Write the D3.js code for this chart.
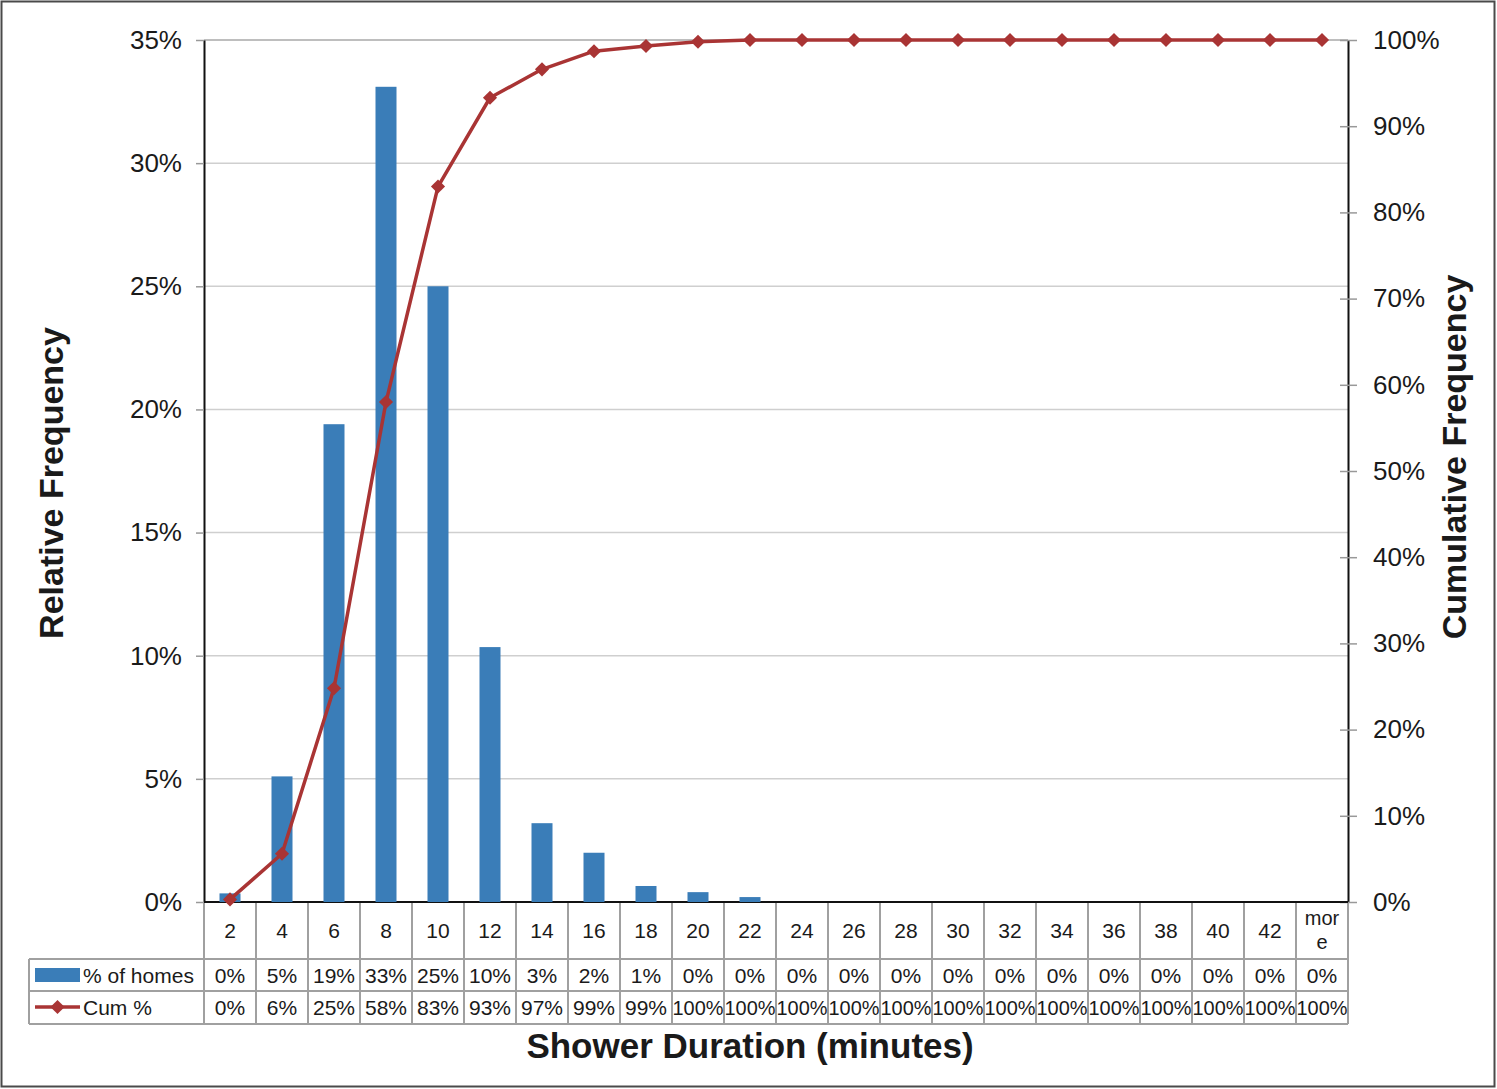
<!DOCTYPE html>
<html>
<head>
<meta charset="utf-8">
<script src="https://cdn.jsdelivr.net/npm/d3@7"></script>
<style>
  html, body { margin: 0; padding: 0; background: #fff; }
  svg { display: block; font-family: "Liberation Sans", Arial, sans-serif; }
</style>
</head>
<body>
<svg id="chart" width="1497" height="1089"></svg>
<script>
// Shower duration bins (minutes)
const categories = ["2","4","6","8","10","12","14","16","18","20","22","24","26","28","30","32","34","36","38","40","42","more"];
// Share of homes per bin (%)
const pctHomes = [0.35, 5.1, 19.4, 33.1, 25.0, 10.35, 3.2, 2.0, 0.65, 0.4, 0.2, 0, 0, 0, 0, 0, 0, 0, 0, 0, 0, 0];
// Cumulative share (%)
const cumPct = [0.3, 5.6, 24.8, 58.0, 83.0, 93.3, 96.6, 98.7, 99.3, 99.8, 100, 100, 100, 100, 100, 100, 100, 100, 100, 100, 100, 100];
const leftTicks = [0, 5, 10, 15, 20, 25, 30, 35];
const rightTicks = [0, 10, 20, 30, 40, 50, 60, 70, 80, 90, 100];
const seriesNames = ["% of homes", "Cum %"];

const BLUE = "#3a7db8";
const RED = "#a93434";
const TEXT = "#1a1a1a";

const svg = d3.select("#chart");
const plot = { left: 204, right: 1348, top: 40, bottom: 902 };

const x = d3.scaleBand().domain(categories).range([plot.left, plot.right]).padding(0);
const yL = d3.scaleLinear().domain([0, 35]).range([plot.bottom, plot.top]);
const yR = d3.scaleLinear().domain([0, 100]).range([plot.bottom, plot.top]);
const pctFmt = v => d3.format(".0%")(v / 100);
const marker = d3.symbol(d3.symbolSquare, 100)();

// outer frame
svg.append("rect").attr("x", 1.5).attr("y", 1.5).attr("width", 1493).attr("height", 1085)
  .attr("fill", "none").attr("stroke", "#4a4a4a").attr("stroke-width", 2);

// horizontal gridlines
svg.append("g").selectAll("line").data(leftTicks.filter(d => d > 0)).join("line")
  .attr("x1", plot.left).attr("x2", plot.right)
  .attr("y1", d => yL(d)).attr("y2", d => yL(d))
  .attr("stroke", d => d === 35 ? "#a8a8a8" : "#cfcfcf").attr("stroke-width", 1.5);

// left axis
const axL = svg.append("g").attr("transform", `translate(${plot.left},0)`)
  .call(d3.axisLeft(yL).tickValues(leftTicks).tickFormat(d => d + "%").tickSize(8).tickSizeOuter(0).tickPadding(14));
axL.select(".domain").attr("stroke", "#111").attr("stroke-width", 2);
axL.selectAll(".tick line").attr("stroke", "#999").attr("stroke-width", 1.5);
axL.selectAll(".tick text").attr("font-size", 26).attr("fill", TEXT).attr("font-family", "Liberation Sans, Arial, sans-serif");

// right axis (ticks cross the axis line)
const axR = svg.append("g").attr("transform", `translate(${plot.right},0)`)
  .call(d3.axisRight(yR).tickValues(rightTicks).tickFormat(d => d + "%").tickSize(9).tickSizeOuter(0).tickPadding(16));
axR.select(".domain").attr("stroke", "#111").attr("stroke-width", 2);
axR.selectAll(".tick line").attr("x1", -8).attr("stroke", "#999").attr("stroke-width", 1.5);
axR.selectAll(".tick text").attr("font-size", 26).attr("fill", TEXT).attr("font-family", "Liberation Sans, Arial, sans-serif");

// data table beneath the plot
const table = { left: 29, rowTop: 959, rowMid: 991, rowBottom: 1024 };
const tg = svg.append("g").attr("stroke", "#a0a0a0").attr("stroke-width", 2);
// vertical column separators
const bounds = categories.map(c => x(c)).concat([plot.right]);
tg.selectAll("line.v").data(bounds).join("line").attr("class", "v")
  .attr("x1", d => d).attr("x2", d => d)
  .attr("y1", plot.bottom).attr("y2", table.rowBottom);
// horizontal rows
[table.rowTop, table.rowMid, table.rowBottom].forEach(y => {
  tg.append("line").attr("x1", table.left).attr("x2", plot.right).attr("y1", y).attr("y2", y);
});
tg.append("line").attr("x1", table.left).attr("x2", table.left).attr("y1", table.rowTop).attr("y2", table.rowBottom);

// bottom axis line
svg.append("line").attr("x1", plot.left).attr("x2", plot.right)
  .attr("y1", plot.bottom).attr("y2", plot.bottom).attr("stroke", "#111").attr("stroke-width", 2);

// category labels
const catG = svg.append("g").attr("font-size", 21).attr("fill", TEXT).attr("text-anchor", "middle");
categories.forEach(c => {
  const cx = x(c) + x.bandwidth() / 2;
  if (c === "more") {
    const t = catG.append("text").attr("x", cx).attr("y", 925).attr("font-size", 20);
    t.append("tspan").attr("x", cx).text("mor");
    t.append("tspan").attr("x", cx).attr("dy", 24).text("e");
  } else {
    catG.append("text").attr("x", cx).attr("y", 938).text(c);
  }
});

// table values
const valG = svg.append("g").attr("font-size", 21).attr("fill", TEXT).attr("text-anchor", "middle");
categories.forEach((c, i) => {
  const cx = x(c) + x.bandwidth() / 2;
  valG.append("text").attr("x", cx).attr("y", 983).text(pctFmt(pctHomes[i]));
  const cum = pctFmt(cumPct[i]);
  const t = valG.append("text").attr("x", cx).attr("y", 1015).text(cum);
  if (cum.length > 3) t.attr("textLength", 51).attr("lengthAdjust", "spacingAndGlyphs");
});

// legend keys in table
svg.append("rect").attr("x", 35).attr("y", 968).attr("width", 45).attr("height", 14).attr("fill", BLUE);
svg.append("text").attr("x", 83).attr("y", 983).attr("font-size", 21).attr("fill", TEXT).text(seriesNames[0]);
svg.append("line").attr("x1", 35).attr("x2", 80).attr("y1", 1007).attr("y2", 1007).attr("stroke", RED).attr("stroke-width", 3.5);
svg.append("path").attr("d", marker).attr("fill", RED)
  .attr("transform", "translate(57.5,1007) rotate(45)");
svg.append("text").attr("x", 83).attr("y", 1015).attr("font-size", 21).attr("fill", TEXT).text(seriesNames[1]);

// bars
const barW = 21;
svg.append("g").selectAll("rect").data(categories.map((c, i) => ({ c, v: pctHomes[i] }))).join("rect")
  .attr("x", d => x(d.c) + x.bandwidth() / 2 - barW / 2)
  .attr("width", barW)
  .attr("y", d => yL(d.v))
  .attr("height", d => yL(0) - yL(d.v))
  .attr("fill", BLUE);

// cumulative line
const cumData = categories.map((c, i) => ({ c, v: cumPct[i] }));
svg.append("path").datum(cumData)
  .attr("fill", "none").attr("stroke", RED).attr("stroke-width", 3.5).attr("stroke-linejoin", "round")
  .attr("d", d3.line().x(d => x(d.c) + x.bandwidth() / 2).y(d => yR(d.v)));
svg.append("g").selectAll("path").data(cumData).join("path")
  .attr("d", marker)
  .attr("fill", RED)
  .attr("transform", d => `translate(${x(d.c) + x.bandwidth() / 2},${yR(d.v)}) rotate(45)`);

// axis titles
svg.append("text").attr("transform", "translate(63,483) rotate(-90)")
  .attr("text-anchor", "middle").attr("font-size", 34).attr("font-weight", "bold").attr("fill", TEXT)
  .text("Relative Frequency");
svg.append("text").attr("transform", "translate(1466,457) rotate(-90)")
  .attr("text-anchor", "middle").attr("font-size", 34).attr("font-weight", "bold").attr("fill", TEXT)
  .text("Cumulative Frequency");
svg.append("text").attr("x", 750).attr("y", 1058)
  .attr("text-anchor", "middle").attr("font-size", 35).attr("font-weight", "bold").attr("fill", TEXT)
  .text("Shower Duration (minutes)");
</script>
</body>
</html>
